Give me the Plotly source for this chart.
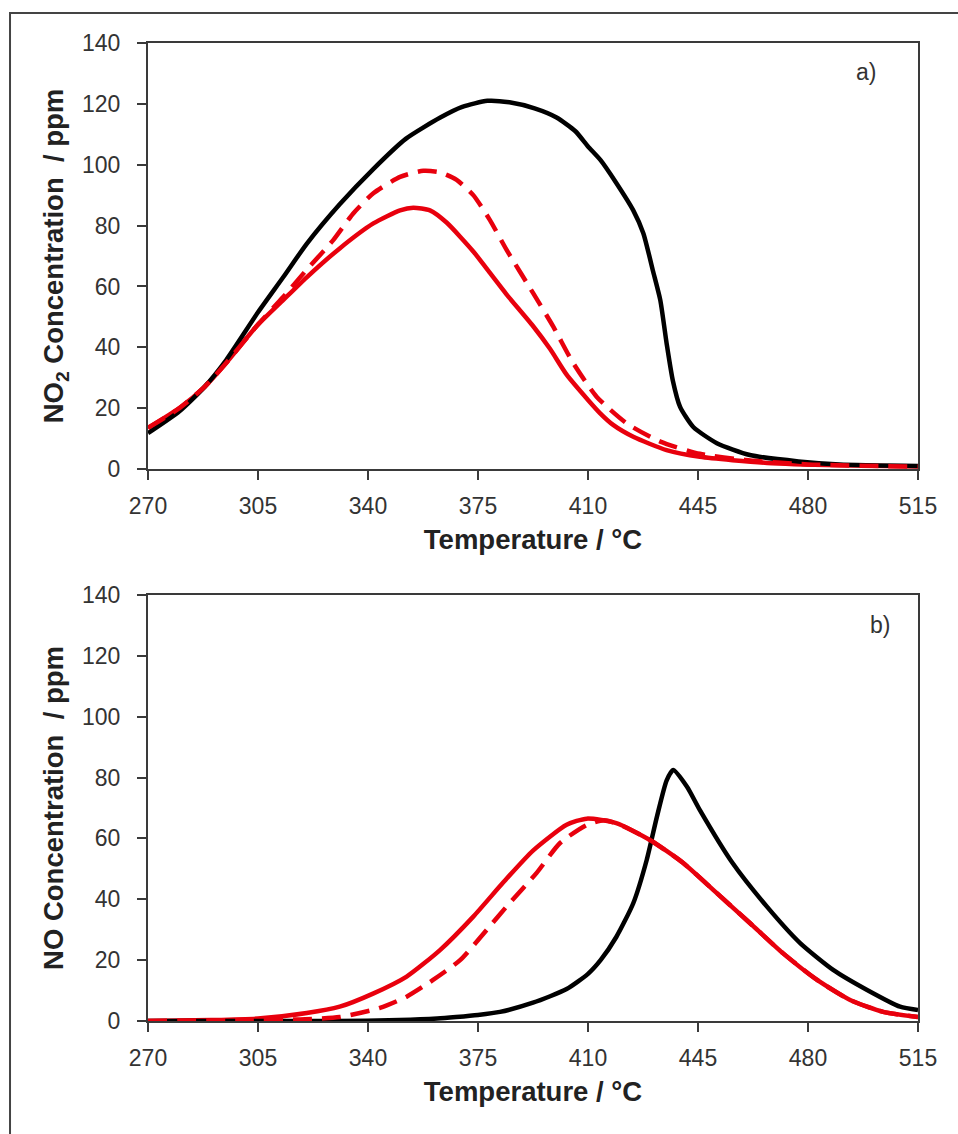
import plotly.graph_objects as go

# ---------------- data ----------------
# Panel a) NO2 concentration / ppm
t_a_black = [270, 280, 288, 295, 305, 313, 320.5, 331, 341.6, 352, 363, 370, 378, 385,
             393, 400, 406, 410, 414, 419, 424.4, 427.6, 430.7, 433, 435, 437, 439.3,
             443.5, 451, 461.5, 477, 490, 515]
v_a_black = [11.8, 19, 27, 36, 51.5, 63, 74, 87, 98.5, 108.5, 115.5, 119, 121, 120.5,
             118.5, 115.5, 111, 106, 101.5, 94, 85, 77.5, 65, 55.5, 41.4, 29, 20.4,
             13.8, 8.5, 4.6, 2.5, 1.5, 1]

t_a_red = [270, 280, 288, 295, 304.6, 313, 320.5, 331, 341.7, 350.2, 354.4, 359.7, 365,
           373.5, 378, 384, 392.5, 397.9, 403.2, 410, 413.8, 418, 424.4, 435, 445.6,
           467, 490, 515]
v_a_red = [13.5, 20, 27, 35, 47, 55.5, 63, 72.5, 80.7, 85, 85.9, 85, 81,
           71.5, 65.5, 57.5, 47, 39.5, 31, 22.7, 18.4, 14.5, 10.6, 6.2, 4,
           2, 1.2, 0.8]

t_a_dash = [270, 280, 288, 295, 305, 313, 320.5, 329, 335.3, 341.7, 350.2, 357.6, 362.9,
            368.2, 373.5, 378.8, 384.1, 392.6, 399, 405.3, 412.8, 422.3, 433, 445.6,
            460, 480, 515]
v_a_dash = [13.5, 20, 27, 35, 47.5, 56.5, 65.5, 75.3, 84, 90.6, 96, 98, 97.5,
            95, 90, 81.8, 72, 57.7, 46.7, 34.8, 23.7, 15, 9, 5,
            3, 1.5, 0.8]

# Panel b) NO concentration / ppm
t_b_black = [270, 300, 330, 350, 362, 368, 375, 382, 392.5, 403.2, 410, 414, 419, 424.4,
             428.7, 431.9, 435, 437.1, 441.5, 445.6, 456, 467, 477.5, 488, 498.8,
             509.3, 515]
v_b_black = [0, 0, 0, 0.3, 0.8, 1.3, 2, 3, 6, 10.5, 15.5, 20, 27.6, 38.7,
             53, 67, 79, 82.5, 77, 69.3, 51.9, 37.5, 25.6, 16.8, 10.2,
             4.7, 3.6]

t_b_red = [270, 290, 305, 320.5, 331, 341.6, 352.3, 362.9, 373.5, 383, 392.5, 403.2,
           409.6, 419, 429.7, 440.2, 451, 461.5, 472, 482.9, 493.4, 503.9, 515]
v_b_red = [0, 0.3, 0.8, 2.6, 4.7, 9, 14.6, 23.3, 34.3, 45.5, 56, 64.5,
           66.5, 65, 59.5, 52, 42, 32.2, 22.3, 13.5, 6.9, 3, 1.3]

t_b_dash = [270, 300, 320, 331, 343.8, 352.3, 360.7, 369.3, 377.8, 385, 393.6, 401.1,
            409.6, 415, 419, 429.7, 440.2, 451, 461.5, 472, 482.9, 493.4, 503.9, 515]
v_b_dash = [0, 0.3, 0.6, 1.3, 4.3, 8, 13.5, 20, 30, 38.7, 48.6, 58.5,
            64.4, 66, 65, 59.5, 52, 42, 32.2, 22.3, 13.5, 6.9, 3, 1.3]

x_ticks = [270, 305, 340, 375, 410, 445, 480, 515]
y_ticks = [0, 20, 40, 60, 80, 100, 120, 140]

RED = "#E8000D"
BLACK = "#000000"
AXIS = "#3a3a3a"
FONT = "Liberation Sans, Arial, sans-serif"

fig = go.Figure()

def add_panel(xa, ya, tb, vb, tr, vr, td, vd):
    line_kw = dict(shape="spline", smoothing=0.6)
    fig.add_trace(go.Scatter(x=tr, y=vr, mode="lines", xaxis=xa, yaxis=ya,
                             line=dict(color=RED, width=4.5, **line_kw), showlegend=False))
    fig.add_trace(go.Scatter(x=tb, y=vb, mode="lines", xaxis=xa, yaxis=ya,
                             line=dict(color=BLACK, width=4.5, **line_kw), showlegend=False))
    fig.add_trace(go.Scatter(x=td, y=vd, mode="lines", xaxis=xa, yaxis=ya,
                             line=dict(color=RED, width=4.5, dash="19px,10px", **line_kw),
                             showlegend=False))

add_panel("x", "y", t_a_black, v_a_black, t_a_red, v_a_red, t_a_dash, v_a_dash)
add_panel("x2", "y2", t_b_black, v_b_black, t_b_red, v_b_red, t_b_dash, v_b_dash)

TITLE_FONT = dict(family=FONT, size=27.5, color="#222222")

common_x = dict(range=[270, 515], tickvals=x_ticks, ticks="outside", ticklen=9,
                tickwidth=2, tickcolor=AXIS, showline=True, linecolor=AXIS, linewidth=2,
                mirror=True, showgrid=False, zeroline=False,
                tickfont=dict(family=FONT, size=23, color="#333333"),
                ticklabelstandoff=6,
                title=dict(text="<b>Temperature / °C</b>", standoff=12, font=TITLE_FONT))
common_y = dict(range=[0, 140], tickvals=y_ticks, ticks="outside", ticklen=9,
                tickwidth=2, tickcolor=AXIS, showline=True, linecolor=AXIS, linewidth=2,
                mirror=True, showgrid=False, zeroline=False,
                tickfont=dict(family=FONT, size=23, color="#333333"),
                ticklabelstandoff=12)

fig.update_layout(
    width=958, height=1134,
    margin=dict(l=148, r=40, t=43, b=113),
    paper_bgcolor="white", plot_bgcolor="white",
    xaxis=dict(domain=[0, 1], anchor="y", **common_x),
    yaxis=dict(domain=[0.5644, 1], anchor="x",
               title=dict(text="<b>NO<sub>2</sub> Concentration\u00a0 / ppm</b>", standoff=10,
                          font=TITLE_FONT),
               **common_y),
    xaxis2=dict(domain=[0, 1], anchor="y2", **common_x),
    yaxis2=dict(domain=[0, 0.4356], anchor="x2",
                title=dict(text="<b>NO Concentration\u00a0 / ppm</b>", standoff=10,
                           font=TITLE_FONT),
                **common_y),
    annotations=[
        dict(text="a)", xref="paper", yref="paper", x=0.9325, y=0.9703, showarrow=False,
             xanchor="center", yanchor="middle",
             font=dict(family=FONT, size=23, color="#333333")),
        dict(text="b)", xref="paper", yref="paper", x=0.9506, y=0.4049, showarrow=False,
             xanchor="center", yanchor="middle",
             font=dict(family=FONT, size=23, color="#333333")),
    ],
    shapes=[dict(type="rect", xref="paper", yref="paper", x0=-0.1792, x1=1.06,
                 y0=-0.14, y1=1.0307, line=dict(color="#444444", width=2))],
)

fig.write_html("out.html")
